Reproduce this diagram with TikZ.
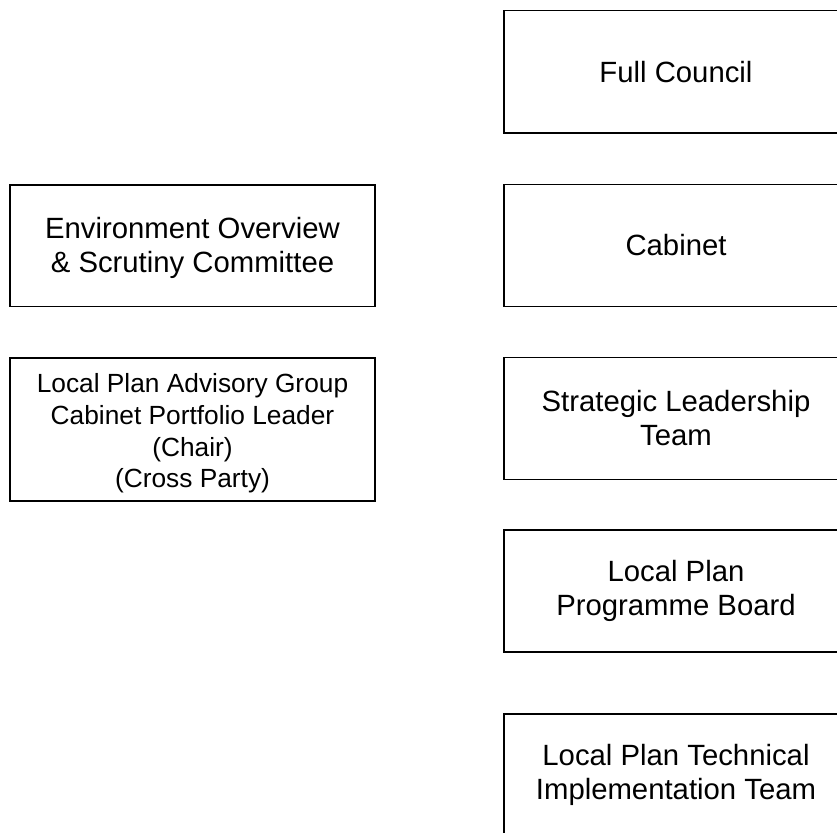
\documentclass[tikz,border=0pt]{standalone}
\usepackage{fontspec}
\setmainfont{Liberation Sans}
\newcommand\mainsz{\fontsize{29.3}{34}\selectfont}
\newcommand\smallsz{\fontsize{26.3}{31.7}\selectfont}
\tikzset{
  orgbox/.style={draw=black, line width=1.6pt, rectangle, inner sep=0pt, align=center, font=\mainsz},
  rightbox/.style={orgbox, minimum width=344pt, minimum height=122pt},
  leftbox/.style={orgbox, minimum width=365pt},
  txt/.style={inner sep=0pt, align=center}
}
\begin{document}
\begin{tikzpicture}[x=1pt,y=-1pt]
\useasboundingbox (0,0) rectangle (837,832);
\clip (0,0) rectangle (837,832);
\node[rightbox] (full) at (676,71.7) {Full Council};
\node[rightbox] (cab) at (676,245.4) {Cabinet};
\node[rightbox] (slt) at (676,418.5) {Strategic Leadership\\Team};
\node[rightbox] (lppb) at (676,591.2) {Local Plan\\Programme Board};
\node[rightbox] (lptit) at (676,775.2) {Local Plan Technical\\Implementation Team};
\node[leftbox, minimum height=121.7pt] (env) at (192.5,245.8) {};
\node[txt, font=\mainsz] (envt) at ([yshift=-2pt]env.center) {Environment Overview\\\& Scrutiny Committee};
\node[leftbox, minimum height=143pt] (lpag) at (192.5,429.5) {};
\node[txt, font=\smallsz] (lpagt) at ([yshift=-4pt]lpag.center) {Local Plan Advisory Group\\Cabinet Portfolio Leader\\(Chair)\\(Cross Party)};
\end{tikzpicture}
\end{document}
